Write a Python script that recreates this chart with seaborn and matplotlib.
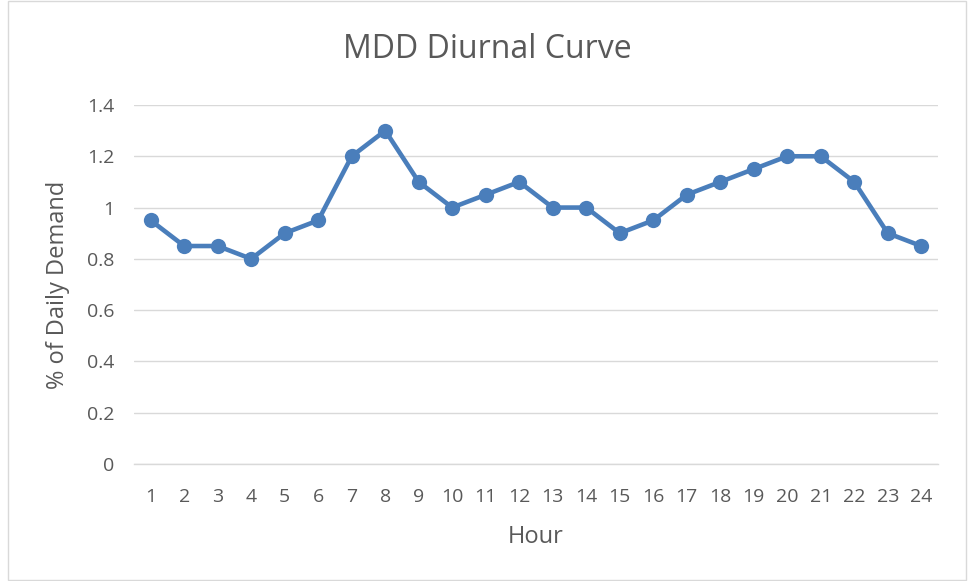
import matplotlib
matplotlib.use("Agg")
import matplotlib.pyplot as plt
import seaborn as sns
import pandas as pd
from matplotlib.patches import Rectangle

hours = list(range(1, 25))
demand = [0.95, 0.85, 0.85, 0.8, 0.9, 0.95, 1.2, 1.3, 1.1, 1.0, 1.05, 1.1,
          1.0, 1.0, 0.9, 0.95, 1.05, 1.1, 1.15, 1.2, 1.2, 1.1, 0.9, 0.85]
y_ticks = [0, 0.2, 0.4, 0.6, 0.8, 1, 1.2, 1.4]
y_tick_labels = ["0", "0.2", "0.4", "0.6", "0.8", "1", "1.2", "1.4"]

df = pd.DataFrame({"Hour": hours, "Demand": demand})

sns.set_style("white")
plt.rcParams["font.family"] = ["Open Sans", "DejaVu Sans"]
TEXT = "#595959"

fig = plt.figure(figsize=(9.68, 5.81), dpi=100)
ax = fig.add_axes([0.1384, 0.2014, 0.8306, 0.6179])

sns.lineplot(data=df, x="Hour", y="Demand", ax=ax, color="#4A7EBB",
             linewidth=3.3, marker="o", markersize=11, markeredgewidth=0)

ax.set_xlim(0.5, 24.5)
ax.set_ylim(0, 1.4)
ax.set_yticks(y_ticks)
ax.set_yticklabels(y_tick_labels)
ax.set_xticks(hours)
ax.set_xticklabels([str(h) for h in hours])
ax.grid(axis="y", color="#D9D9D9", linewidth=1)
ax.set_axisbelow(True)
for side in ["top", "right", "left"]:
    ax.spines[side].set_visible(False)
ax.spines["bottom"].set_color("#D9D9D9")
ax.spines["bottom"].set_linewidth(1)
ax.tick_params(axis="both", length=0, labelsize=14, colors=TEXT)
ax.tick_params(axis="x", pad=17)
ax.tick_params(axis="y", pad=14)

ax.set_xlabel("Hour", fontsize=17, color=TEXT, labelpad=14)
ax.set_ylabel("% of Daily Demand", fontsize=17, color=TEXT, labelpad=12)
fig.text(0.503, 0.914, "MDD Diurnal Curve", ha="center", va="center",
         fontsize=23, color=TEXT)

fig.patches.append(Rectangle((8 / 968, 0.002), 958 / 968, 0.996, transform=fig.transFigure,
                             fill=False, edgecolor="#D9D9D9", linewidth=1))

fig.savefig("out.png", dpi=100)
